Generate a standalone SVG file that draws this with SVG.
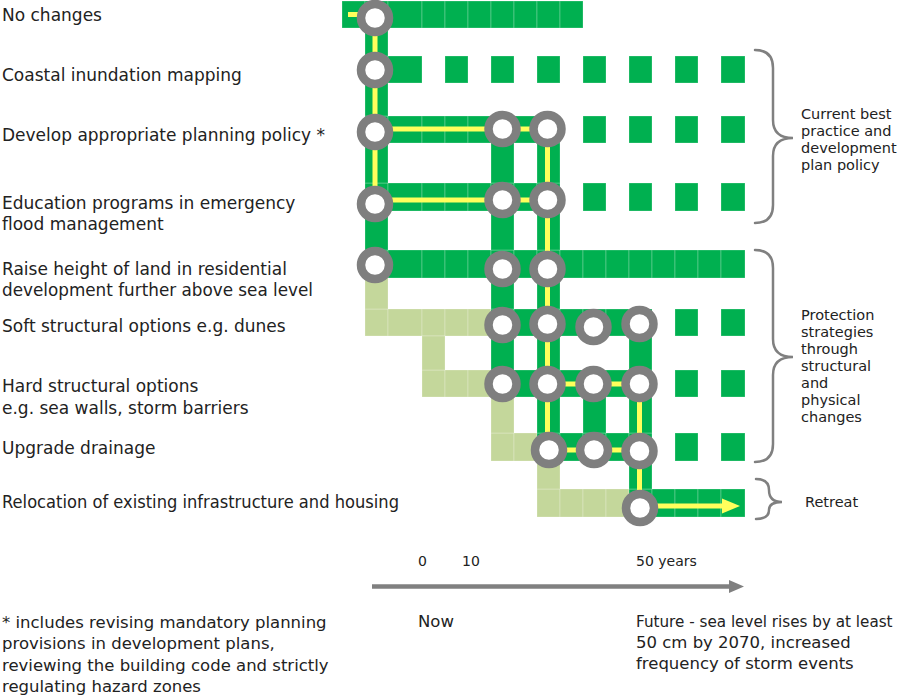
<svg xmlns="http://www.w3.org/2000/svg" width="905" height="697" viewBox="0 0 905 697">
<style>
.g{fill:#00b050;stroke:#ffffff;stroke-opacity:0.3;stroke-width:0.8}
.p{fill:#c4d79b;stroke:#ffffff;stroke-opacity:0.3;stroke-width:0.8}
.st{fill:#ffffff;stroke:#7f7f7f;stroke-width:8.5}
.y{stroke:#ffff5c;stroke-width:5;fill:none}
.br{stroke:#808080;stroke-width:2.5;fill:none;stroke-linecap:round}
text{font-family:"DejaVu Sans","Liberation Sans",sans-serif;fill:#222222}
.lbl{font-size:17px}
.side{font-size:14.5px}
.tick{font-size:14px}
.note{font-size:16.5px}
.fut{font-size:15.2px}
</style>
<rect x="0" y="0" width="905" height="697" fill="#ffffff"/>

<g id="row-no-changes">
<text class="lbl" x="2" y="21">No changes</text>
<rect class="g" x="342" y="1" width="23" height="27"/><rect class="g" x="365" y="1" width="23" height="27"/><rect class="g" x="388" y="1" width="34" height="27"/><rect class="g" x="422" y="1" width="23" height="27"/><rect class="g" x="445" y="1" width="23" height="27"/><rect class="g" x="468" y="1" width="23" height="27"/><rect class="g" x="491" y="1" width="23" height="27"/><rect class="g" x="514" y="1" width="23" height="27"/><rect class="g" x="537" y="1" width="23" height="27"/><rect class="g" x="560" y="1" width="23" height="27"/>
</g>

<g id="row-coastal-mapping">
<text class="lbl" x="2" y="81">Coastal inundation mapping</text>
<rect class="g" x="365" y="56" width="23" height="27"/><rect class="g" x="388" y="56" width="34" height="27"/><rect class="g" x="445" y="56" width="23" height="27"/><rect class="g" x="491" y="56" width="23" height="27"/><rect class="g" x="537" y="56" width="23" height="27"/><rect class="g" x="583" y="56" width="23" height="27"/><rect class="g" x="629" y="56" width="23" height="27"/><rect class="g" x="675" y="56" width="23" height="27"/><rect class="g" x="721" y="56" width="24" height="27"/>
</g>

<g id="row-planning-policy">
<text class="lbl" x="2" y="141">Develop appropriate planning policy *</text>
<rect class="g" x="365" y="116" width="23" height="27"/><rect class="g" x="388" y="116" width="34" height="27"/><rect class="g" x="422" y="116" width="23" height="27"/><rect class="g" x="445" y="116" width="23" height="27"/><rect class="g" x="468" y="116" width="23" height="27"/><rect class="g" x="491" y="116" width="23" height="27"/><rect class="g" x="514" y="116" width="23" height="27"/><rect class="g" x="537" y="116" width="23" height="27"/><rect class="g" x="583" y="116" width="23" height="27"/><rect class="g" x="629" y="116" width="23" height="27"/><rect class="g" x="675" y="116" width="23" height="27"/><rect class="g" x="721" y="116" width="24" height="27"/>
</g>

<g id="row-education">
<text class="lbl" x="2" y="209">Education programs in emergency</text>
<text class="lbl" x="2" y="230">flood management</text>
<rect class="g" x="365" y="183" width="23" height="28"/><rect class="g" x="388" y="183" width="34" height="28"/><rect class="g" x="422" y="183" width="23" height="28"/><rect class="g" x="445" y="183" width="23" height="28"/><rect class="g" x="468" y="183" width="23" height="28"/><rect class="g" x="491" y="183" width="23" height="28"/><rect class="g" x="514" y="183" width="23" height="28"/><rect class="g" x="537" y="183" width="23" height="28"/><rect class="g" x="583" y="183" width="23" height="28"/><rect class="g" x="629" y="183" width="23" height="28"/><rect class="g" x="675" y="183" width="23" height="28"/><rect class="g" x="721" y="183" width="24" height="28"/>
</g>

<g id="row-raise-land">
<text class="lbl" x="2" y="275">Raise height of land in residential</text>
<text class="lbl" x="2" y="296" textLength="311" lengthAdjust="spacingAndGlyphs">development further above sea level</text>
<rect class="g" x="365" y="250" width="23" height="28"/><rect class="g" x="388" y="250" width="34" height="28"/><rect class="g" x="422" y="250" width="23" height="28"/><rect class="g" x="445" y="250" width="23" height="28"/><rect class="g" x="468" y="250" width="23" height="28"/><rect class="g" x="491" y="250" width="23" height="28"/><rect class="g" x="514" y="250" width="23" height="28"/><rect class="g" x="537" y="250" width="23" height="28"/><rect class="g" x="560" y="250" width="23" height="28"/><rect class="g" x="583" y="250" width="23" height="28"/><rect class="g" x="606" y="250" width="23" height="28"/><rect class="g" x="629" y="250" width="23" height="28"/><rect class="g" x="652" y="250" width="23" height="28"/><rect class="g" x="675" y="250" width="23" height="28"/><rect class="g" x="698" y="250" width="23" height="28"/><rect class="g" x="721" y="250" width="24" height="28"/>
</g>

<g id="row-soft-structural">
<text class="lbl" x="2" y="332">Soft structural options e.g. dunes</text>
<rect class="p" x="365" y="309" width="23" height="27"/><rect class="p" x="388" y="309" width="34" height="27"/><rect class="p" x="422" y="309" width="23" height="27"/><rect class="p" x="445" y="309" width="23" height="27"/><rect class="p" x="468" y="309" width="23" height="27"/>
<rect class="g" x="491" y="309" width="23" height="27"/><rect class="g" x="514" y="309" width="23" height="27"/><rect class="g" x="537" y="309" width="23" height="27"/><rect class="g" x="560" y="309" width="23" height="27"/><rect class="g" x="583" y="309" width="23" height="27"/><rect class="g" x="606" y="309" width="23" height="27"/><rect class="g" x="629" y="309" width="23" height="27"/><rect class="g" x="675" y="309" width="23" height="27"/><rect class="g" x="721" y="309" width="24" height="27"/>
</g>

<g id="row-hard-structural">
<text class="lbl" x="2" y="392">Hard structural options</text>
<text class="lbl" x="2" y="414">e.g. sea walls, storm barriers</text>
<rect class="p" x="422" y="370" width="23" height="27"/><rect class="p" x="445" y="370" width="23" height="27"/><rect class="p" x="468" y="370" width="23" height="27"/>
<rect class="g" x="491" y="370" width="23" height="27"/><rect class="g" x="514" y="370" width="23" height="27"/><rect class="g" x="537" y="370" width="23" height="27"/><rect class="g" x="560" y="370" width="23" height="27"/><rect class="g" x="583" y="370" width="23" height="27"/><rect class="g" x="606" y="370" width="23" height="27"/><rect class="g" x="629" y="370" width="23" height="27"/><rect class="g" x="675" y="370" width="23" height="27"/><rect class="g" x="721" y="370" width="24" height="27"/>
</g>

<g id="row-drainage">
<text class="lbl" x="2" y="454">Upgrade drainage</text>
<rect class="p" x="491" y="433" width="23" height="28"/><rect class="p" x="514" y="433" width="23" height="28"/>
<rect class="g" x="537" y="433" width="23" height="28"/><rect class="g" x="560" y="433" width="23" height="28"/><rect class="g" x="583" y="433" width="23" height="28"/><rect class="g" x="606" y="433" width="23" height="28"/><rect class="g" x="629" y="433" width="23" height="28"/><rect class="g" x="675" y="433" width="23" height="28"/><rect class="g" x="721" y="433" width="24" height="28"/>
</g>

<g id="row-relocation">
<text class="lbl" x="2" y="508" textLength="397" lengthAdjust="spacingAndGlyphs">Relocation of existing infrastructure and housing</text>
<rect class="p" x="537" y="489" width="23" height="28"/><rect class="p" x="560" y="489" width="23" height="28"/><rect class="p" x="583" y="489" width="23" height="28"/><rect class="p" x="606" y="489" width="23" height="28"/>
<rect class="g" x="629" y="489" width="23" height="28"/><rect class="g" x="652" y="489" width="23" height="28"/><rect class="g" x="675" y="489" width="23" height="28"/><rect class="g" x="698" y="489" width="23" height="28"/><rect class="g" x="721" y="489" width="24" height="28"/>
</g>

<g id="links">
<rect class="g" x="365" y="28" width="23" height="28"/>
<rect class="g" x="365" y="83" width="23" height="33"/>
<rect class="g" x="365" y="143" width="23" height="40"/><rect class="g" x="491" y="143" width="23" height="40"/><rect class="g" x="537" y="143" width="23" height="40"/>
<rect class="g" x="365" y="211" width="23" height="39"/><rect class="g" x="491" y="211" width="23" height="39"/><rect class="g" x="537" y="211" width="23" height="39"/>
<rect class="p" x="365" y="278" width="23" height="31"/><rect class="g" x="491" y="278" width="23" height="31"/><rect class="g" x="537" y="278" width="23" height="31"/>
<rect class="p" x="422" y="336" width="23" height="34"/><rect class="g" x="491" y="336" width="23" height="34"/><rect class="g" x="537" y="336" width="23" height="34"/><rect class="g" x="629" y="336" width="23" height="34"/>
<rect class="p" x="491" y="397" width="23" height="36"/><rect class="g" x="537" y="397" width="23" height="36"/><rect class="g" x="583" y="397" width="23" height="36"/><rect class="g" x="629" y="397" width="23" height="36"/>
<rect class="p" x="537" y="461" width="23" height="28"/><rect class="g" x="629" y="461" width="23" height="28"/>
</g>

<g id="connectors">
<path class="y" d="M348,14.5 H375"/>
<path class="y" d="M375,18 V204"/>
<path class="y" d="M375,129 H547.5"/>
<path class="y" d="M375,200 H547.5"/>
<path class="y" d="M547.5,129 V449"/>
<path class="y" d="M547.5,384 H639.5"/>
<path class="y" d="M549,450 H639.5"/>
<path class="y" d="M639.5,384 V508"/>
<path class="y" d="M640,506 H726" stroke-width="5.5"/>
<polygon points="722,498.5 740,506 722,513.5" fill="#ffff5c"/>
</g>

<g id="stations">
<circle class="st" cx="375" cy="18" r="14"/>
<circle class="st" cx="375" cy="70" r="14"/>
<circle class="st" cx="375" cy="132" r="14"/>
<circle class="st" cx="502.5" cy="129" r="14"/>
<circle class="st" cx="547.5" cy="129" r="14"/>
<circle class="st" cx="375" cy="204" r="14"/>
<circle class="st" cx="502.5" cy="200" r="14"/>
<circle class="st" cx="547.5" cy="200" r="14"/>
<circle class="st" cx="375" cy="265" r="14"/>
<circle class="st" cx="502.5" cy="269" r="14"/>
<circle class="st" cx="547.5" cy="269" r="14"/>
<circle class="st" cx="502.5" cy="325" r="14"/>
<circle class="st" cx="547.5" cy="324" r="14"/>
<circle class="st" cx="593.5" cy="327" r="14"/>
<circle class="st" cx="639.5" cy="324" r="14"/>
<circle class="st" cx="502.5" cy="384" r="14"/>
<circle class="st" cx="547.5" cy="384" r="14"/>
<circle class="st" cx="593.5" cy="384" r="14"/>
<circle class="st" cx="639.5" cy="384" r="14"/>
<circle class="st" cx="549" cy="450" r="14"/>
<circle class="st" cx="594" cy="450" r="14"/>
<circle class="st" cx="639.5" cy="451" r="14"/>
<circle class="st" cx="640" cy="508" r="14"/>
</g>

<g id="group-current-best">
<path class="br" d="M755,50 Q773,50 773,68 V120 Q773,138 793,138 Q773,138 773,156 V205 Q773,223 755,223"/>
<text class="side" x="801" y="119">Current best</text>
<text class="side" x="801" y="136">practice and</text>
<text class="side" x="801" y="153">development</text>
<text class="side" x="801" y="170">plan policy</text>
</g>

<g id="group-protection">
<path class="br" d="M755,250 Q773,250 773,268 V339 Q773,357 793,357 Q773,357 773,375 V444 Q773,462 755,462"/>
<text class="side" x="801" y="320">Protection</text>
<text class="side" x="801" y="337">strategies</text>
<text class="side" x="801" y="354">through</text>
<text class="side" x="801" y="371">structural</text>
<text class="side" x="801" y="388">and</text>
<text class="side" x="801" y="405">physical</text>
<text class="side" x="801" y="422">changes</text>
</g>

<g id="group-retreat">
<path class="br" d="M756,479 Q769,479 769,490 Q769,502 782,502 Q769,502 769,510 Q769,519 756,519"/>
<text class="side" x="805" y="507">Retreat</text>
</g>

<g id="time-axis">
<text class="tick" x="418" y="566">0</text>
<text class="tick" x="462" y="566">10</text>
<text class="tick" x="636" y="566">50 years</text>
<line x1="372" y1="586.5" x2="731" y2="586.5" stroke="#808080" stroke-width="4.5"/>
<polygon points="729,580 744,586.5 729,593" fill="#808080"/>
<text class="note" x="418" y="627">Now</text>
<text class="fut" x="636" y="627">Future - sea level rises by at least</text>
<text class="note" x="636" y="648">50 cm by 2070, increased</text>
<text class="note" x="636" y="669">frequency of storm events</text>
</g>

<g id="footnote">
<text class="note" x="2" y="628">* includes revising mandatory planning</text>
<text class="note" x="2" y="649">provisions in development plans,</text>
<text class="note" x="2" y="671">reviewing the building code and strictly</text>
<text class="note" x="2" y="692">regulating hazard zones</text>
</g>
</svg>
